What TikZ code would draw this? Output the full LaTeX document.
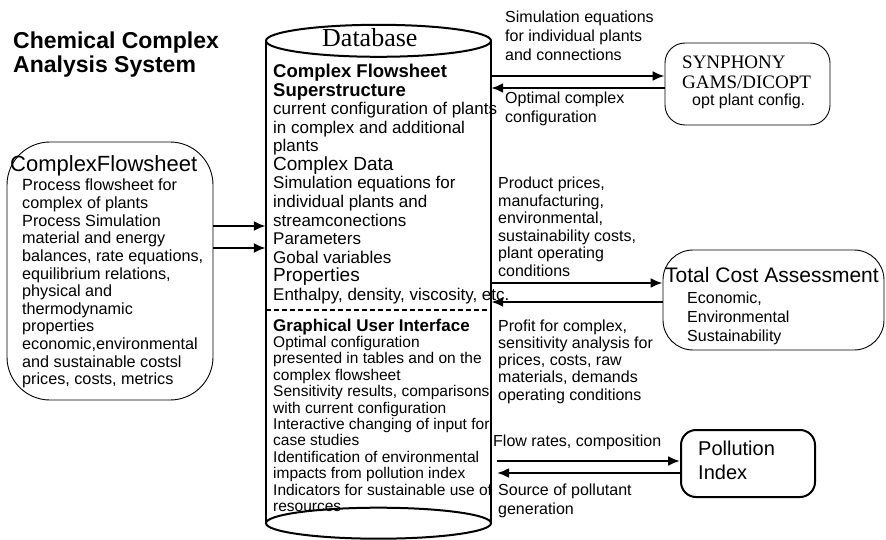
\documentclass[tikz,border=0pt]{standalone}
\usepackage{fontspec}
\setmainfont{Liberation Sans}
\newfontfamily\serifx{Liberation Serif}
\usetikzlibrary{arrows.meta}
\newcommand\fs[2]{\fontsize{#1}{#2}\selectfont}
\newcommand\textlines[6]{%
  \foreach [count=\i] \t in {#6} {%
    \node[txt, font=#5, name=#1\i] at (#2, {#3+(\i-1)*#4}) {\t};
  }}
\begin{document}
\begin{tikzpicture}[x=1pt,y=-1pt,
  txt/.style={inner sep=0pt, anchor=base west},
  arr/.style={line width=2.2pt, -{Latex[length=12pt,width=10pt]}},
  box/.style={draw, line width=0.9pt, inner sep=0pt},
  cyl/.style={line width=2pt}]
\useasboundingbox (0,0) rectangle (886,540);

% title
\node[txt, font=\bfseries\fs{23}{26}] (t1) at (13,49) {Chemical Complex};
\node[txt, font=\bfseries\fs{23}{26}] (t2) at (13,73) {Analysis System};

% database cylinder
\node[inner sep=0pt, minimum width=225pt, minimum height=482pt] (db) at (378.5,282) {};
\coordinate (dbr) at (497,0);
\draw[cyl] (db.north west) -- (db.south west);
\draw[cyl] (db.north east) -- (db.south east);
\draw[cyl, fill=white] (db.north) ellipse [x radius=112.5pt, y radius=16pt];
\draw[cyl] (db.south) ellipse [x radius=112.5pt, y radius=15.5pt];
\node[txt, font=\serifx\fs{26}{28}] (dbt) at (322,47) {Database};
\draw[cyl, dash pattern=on 5pt off 3pt] (db.west |- 0,310) -- (db.east |- 0,310);

\textlines{up}{273}{78}{18.5}{\fs{17}{18}}{%
  {\bfseries\fs{18.5}{20}Complex Flowsheet},
  {\bfseries\fs{18.5}{20}Superstructure},
  {current configuration of plants},
  {in complex and additional},
  {plants},
  {\fs{19}{20}Complex Data},
  {Simulation equations for},
  {individual plants and},
  {streamconections},
  {Parameters},
  {Gobal variables},
  {\fs{19}{20}Properties},
  {Enthalpy, density, viscosity, etc.}}

\textlines{lo}{273}{331}{16.4}{\fs{15.5}{17}}{%
  {\bfseries\fs{17}{18}Graphical User Interface},
  {Optimal configuration},
  {presented in tables and on the},
  {complex flowsheet},
  {Sensitivity results, comparisons},
  {with current configuration},
  {Interactive changing of input for},
  {case studies},
  {Identification of environmental},
  {impacts from pollution index},
  {Indicators for sustainable use of},
  {resources}}

% left box
\node[box, rounded corners=43pt, minimum width=206pt, minimum height=258pt] (cfs) at (110,271) {};
\node[txt, font=\fs{22}{24}] (cfsh) at (10,172) {ComplexFlowsheet};
\textlines{cf}{22}{191}{17.6}{\fs{16.2}{18}}{%
  {Process flowsheet for},
  {complex of plants},
  {Process Simulation},
  {material and energy},
  {balances, rate equations,},
  {equilibrium relations,},
  {physical and},
  {thermodynamic},
  {properties},
  {economic,environmental},
  {and sustainable costsl},
  {prices, costs, metrics}}

% SYNPHONY box
\node[box, rounded corners=20pt, minimum width=165pt, minimum height=82pt] (syn) at (747.5,84) {};
\node[txt, font=\serifx\fs{19}{20}] (syn1) at (682,69) {SYNPHONY};
\node[txt, font=\serifx\fs{19}{20}] (syn2) at (682,89) {GAMS/DICOPT};
\node[txt, font=\fs{16}{18}] (syn3) at (692,106) {opt plant config.};

% Total cost box
\node[box, rounded corners=30pt, minimum width=221pt, minimum height=100pt] (tca) at (773.5,300) {};
\node[txt, font=\fs{21}{22}] (tcah) at (665,282) {Total Cost Assessment};
\textlines{tc}{687}{303}{19}{\fs{16}{18}}{%
  {Economic,},
  {Environmental},
  {Sustainability}}

% Pollution box
\node[box, line width=2pt, rounded corners=15pt, minimum width=134pt, minimum height=67pt] (pol) at (748,463.5) {};
\node[txt, font=\fs{20}{22}] (pol1) at (698,455) {Pollution};
\node[txt, font=\fs{20}{22}] (pol2) at (698,479) {Index};

% labels
\textlines{sa}{505}{23}{19}{\fs{16}{18}}{%
  {Simulation equations},
  {for individual plants},
  {and connections}}
\textlines{sb}{505}{104}{19}{\fs{16}{18}}{%
  {Optimal complex},
  {configuration}}
\textlines{pa}{498}{189}{17.4}{\fs{16}{18}}{%
  {Product prices,},
  {manufacturing,},
  {environmental,},
  {sustainability costs,},
  {plant operating},
  {conditions}}
\textlines{pb}{498}{331}{17.3}{\fs{16}{18}}{%
  {Profit for complex,},
  {sensitivity analysis for},
  {prices, costs, raw},
  {materials, demands},
  {operating conditions}}
\node[txt, font=\fs{16}{18}] (fr) at (493,446) {Flow rates, composition};
\textlines{sp}{498}{495}{19}{\fs{16}{18}}{%
  {Source of pollutant},
  {generation}}

% arrows
\draw[arr] (cfs.east |- 0,226) -- (db.west |- 0,226);
\draw[arr] (cfs.east |- 0,248) -- (db.west |- 0,248);
\draw[arr] (db.east |- 0,76) -- (syn.west |- 0,76);
\draw[arr] (syn.west |- 0,88) -- (db.east |- 0,88);
\draw[arr] (db.east |- 0,283) -- (tca.west |- 0,283);
\draw[arr] (tca.west |- 0,302) -- (db.east |- 0,302);
\draw[arr] (dbr |- 0,461) -- (pol.west |- 0,461);
\draw[arr] (pol.west |- 0,473) -- (dbr |- 0,473);
\end{tikzpicture}
\end{document}
